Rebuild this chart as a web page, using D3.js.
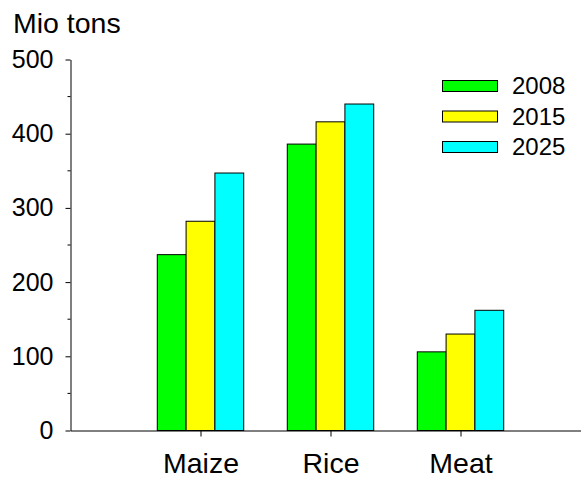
<!DOCTYPE html>
<html>
<head>
<meta charset="utf-8">
<script src="https://cdn.jsdelivr.net/npm/d3@7"></script>
<style>
  html, body { margin: 0; padding: 0; background: #fff; }
  svg { display: block; font-family: "Liberation Sans", Arial, sans-serif; }
</style>
</head>
<body>
<svg id="chart" width="581" height="482"></svg>
<script>
const categories = ["Maize", "Rice", "Meat"];
const years = ["2008", "2015", "2025"];
const values2008 = [237, 386, 106];
const values2015 = [282, 416, 130];
const values2025 = [347, 440, 162];
const colors = ["#00ff00", "#ffff00", "#00ffff"];
const yTicks = [0, 100, 200, 300, 400, 500];
const yMinorTicks = [50, 150, 250, 350, 450];
const yLabel = "Mio tons";

const series = [values2008, values2015, values2025];

const svg = d3.select("#chart");
const x = d3.scaleLinear().domain([0, 4]).range([70.5, 590.5]);
const y = d3.scaleLinear().domain([0, 500]).range([430.5, 59.5]);

const groupW = (x(1) - x(0)) * 0.665;
const inner = d3.scaleBand().domain(years).range([-groupW / 2, groupW / 2]);

// bars
categories.forEach((cat, ci) => {
  const cx = x(ci + 1);
  years.forEach((yr, si) => {
    const v = series[si][ci];
    svg.append("rect")
      .attr("x", cx + inner(yr))
      .attr("y", y(v))
      .attr("width", inner.bandwidth())
      .attr("height", y(0) - y(v))
      .attr("fill", colors[si])
      .attr("stroke", "#000")
      .attr("stroke-width", 1);
  });
});

// y axis
const yAxis = d3.axisLeft(y).tickValues(yTicks).tickSize(5).tickSizeOuter(0).tickPadding(12);
const gy = svg.append("g").attr("transform", "translate(70.5,0)").call(yAxis);
gy.selectAll("text").style("font-size", "25px").attr("fill", "#000");
gy.selectAll("line, path").attr("stroke", "#000");
gy.selectAll(".minor").data(yMinorTicks).enter().append("line")
  .attr("class", "minor")
  .attr("x1", -3).attr("x2", 0)
  .attr("y1", d => y(d)).attr("y2", d => y(d))
  .attr("stroke", "#000");

// x axis
const xAxis = d3.axisBottom(x).tickValues([1, 2, 3]).tickFormat(d => categories[d - 1])
  .tickSize(6).tickSizeOuter(0).tickPadding(16);
const gx = svg.append("g").attr("transform", "translate(0,430.5)").call(xAxis);
gx.selectAll("text").style("font-size", "28.5px").attr("fill", "#000");
gx.selectAll("line, path").attr("stroke", "#000");

// y label
svg.append("text").attr("x", 13).attr("y", 33).style("font-size", "28.5px").attr("fill", "#000").text(yLabel);

// legend
const lg = svg.append("g");
years.forEach((yr, i) => {
  const cy = 86 + i * 30.5;
  lg.append("rect").attr("x", 442.5).attr("y", cy - 5.5).attr("width", 55).attr("height", 11)
    .attr("fill", colors[i]).attr("stroke", "#000");
  lg.append("text").attr("x", 512).attr("y", cy).attr("dy", "0.35em")
    .style("font-size", "24px").attr("fill", "#000").text(yr);
});
</script>
</body>
</html>
